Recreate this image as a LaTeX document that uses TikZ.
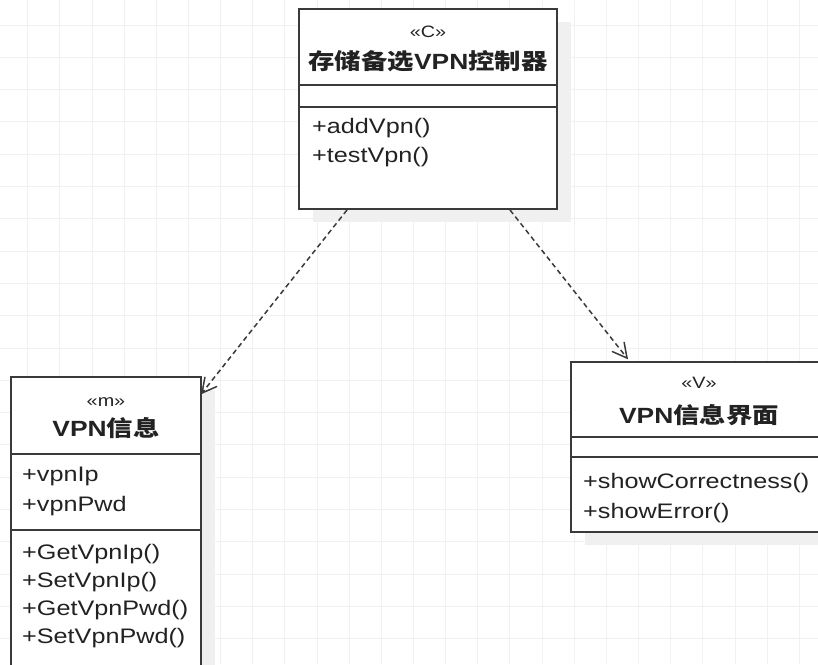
\documentclass[tikz,border=0pt]{standalone}
\usepackage{fontspec}
\setmainfont{Liberation Sans}[FakeStretch=1.2]
\newfontfamily\cjk{Noto Sans CJK SC}[FakeStretch=1.2]
\usetikzlibrary{arrows.meta,calc}
\definecolor{gridc}{HTML}{F1F1F1}
\definecolor{linec}{HTML}{3A3A3A}
\definecolor{shad}{HTML}{F0F0F0}
\definecolor{txt}{HTML}{222222}
\tikzset{
 umlbox/.style={draw=linec, line width=1.8pt, fill=white, rectangle, inner sep=0pt},
 memb/.style={anchor=base west, inner sep=0pt, text=txt, font=\fontsize{21}{25}\selectfont},
 stereo/.style={anchor=base, inner sep=0pt, text=txt, font=\fontsize{16.5}{18}\selectfont},
 ttl/.style={anchor=base, inner sep=0pt, text=txt, font=\fontsize{22}{26}\selectfont\bfseries},
 divider/.style={draw=linec, line width=1.8pt},
 dep/.style={draw=linec, line width=1.5pt, dash pattern=on 5pt off 3.5pt},
 headv/.style={draw=linec, line width=1.5pt, line cap=round, line join=miter}
}
\begin{document}
\begin{tikzpicture}[x=1pt,y=-1pt]
\useasboundingbox (0,0) rectangle (818,664);
\clip (0,0) rectangle (818,664);
\fill[white] (0,0) rectangle (818,664);
% grid
\foreach \i in {0,...,25} \draw[gridc, line width=1pt] (27.7+32.15*\i,0) -- (27.7+32.15*\i,664);
\foreach \j in {0,...,20} \draw[gridc, line width=1pt] (0,25+32.3*\j) -- (818,25+32.3*\j);
% shadows
\fill[shad] (313,22) rectangle (571,222);
\fill[shad] (25,390) rectangle (215,700);
\fill[shad] (585,375) rectangle (841,545);
% boxes
\node[umlbox, minimum width=258pt, minimum height=200pt] (ctrl) at (428,109) {};
\node[umlbox, minimum width=190pt, minimum height=313pt] (info) at (106,533.5) {};
\node[umlbox, minimum width=256pt, minimum height=170pt] (view) at (699,447) {};
% dividers
\draw[divider] (299,85) -- (557,85);
\draw[divider] (299,107) -- (557,107);
\draw[divider] (11,454) -- (201,454);
\draw[divider] (11,530) -- (201,530);
\draw[divider] (571,437) -- (827,437);
\draw[divider] (571,457) -- (827,457);
% top box text
\node[stereo] (cs) at (428,37) {«C»};
\node[ttl] (ct) at (428,69) {{\cjk 存储备选}VPN{\cjk 控制器}};
\node[memb] (c1) at (312,133) {+addVpn()};
\node[memb] (c2) at (312,162) {+testVpn()};
% left box text
\node[stereo] (is) at (106,406) {«m»};
\node[ttl] (it) at (106,436) {VPN{\cjk 信息}};
\node[memb] (i1) at (22,481) {+vpnIp};
\node[memb] (i2) at (22,511) {+vpnPwd};
\node[memb] (i3) at (22,559) {+GetVpnIp()};
\node[memb] (i4) at (22,587) {+SetVpnIp()};
\node[memb] (i5) at (22,615) {+GetVpnPwd()};
\node[memb] (i6) at (22,643) {+SetVpnPwd()};
% right box text
\node[stereo] (vs) at (699,388) {«V»};
\node[ttl] (vt) at (699,423) {VPN{\cjk 信息界面}};
\node[memb] (v1) at (583,488) {+showCorrectness()};
\node[memb] (v2) at (583,518) {+showError()};
% connectors
\coordinate (s1) at (347,210);
\coordinate (e1) at (202,393);
\coordinate (s2) at (510,210);
\coordinate (e2) at (627,358);
\draw[dep] (s1) -- (e1);
\draw[dep] (s2) -- (e2);
\draw[headv] ($(e1)!16pt!28:(s1)$) -- (e1) -- ($(e1)!16pt!-28:(s1)$);
\draw[headv] ($(e2)!16pt!28:(s2)$) -- (e2) -- ($(e2)!16pt!-28:(s2)$);
\end{tikzpicture}
\end{document}
